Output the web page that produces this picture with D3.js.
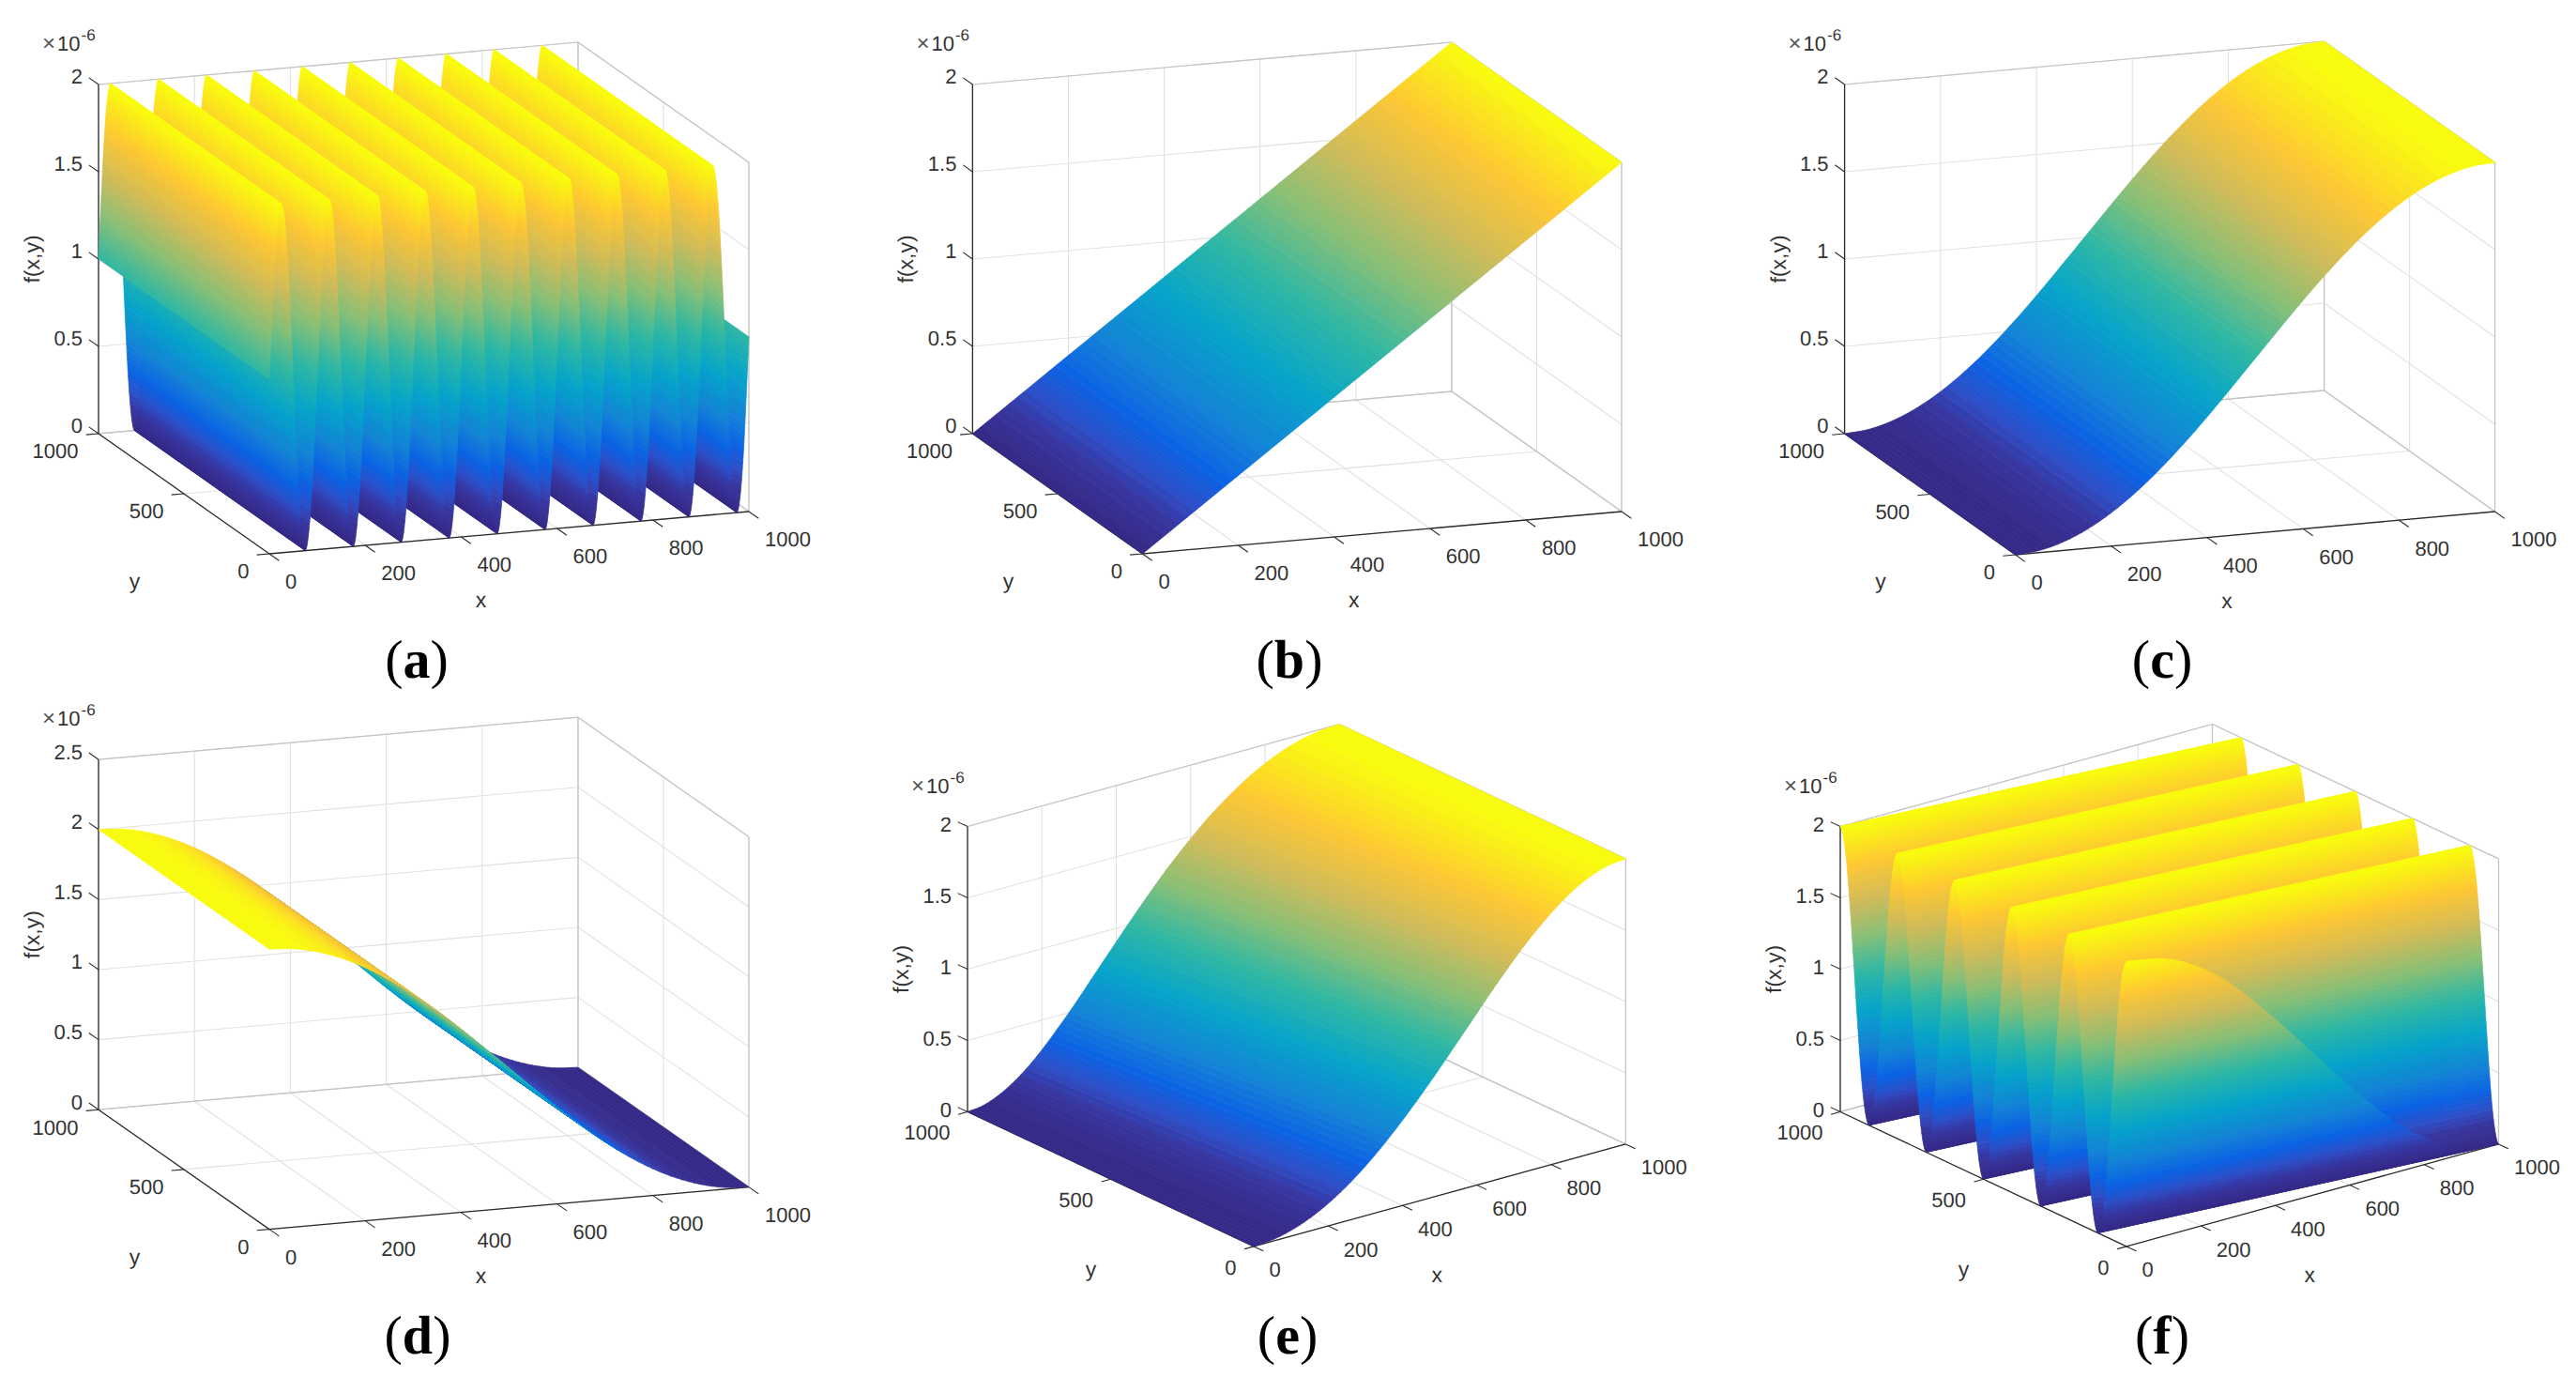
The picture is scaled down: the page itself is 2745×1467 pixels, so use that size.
<!DOCTYPE html>
<html><head><meta charset="utf-8">
<script src="https://cdnjs.cloudflare.com/ajax/libs/d3/7.8.5/d3.min.js"></script>
<style>html,body{margin:0;padding:0;background:#fff}svg{display:block}text{text-rendering:geometricPrecision}</style>
</head><body><svg id="c" width="2745" height="1467"></svg>
<script>
// ---- values ----
const panelNames = ["a","b","c","d","e","f"];
const xTicks = [0,200,400,600,800,1000];
const yTicks = [0,500,1000];
const zTicks = [0,0.5,1,1.5,2];
const zTicksD = [0,0.5,1,1.5,2,2.5];
const zTickLabels = ["0","0.5","1","1.5","2"];
const zTickLabelsD = ["0","0.5","1","1.5","2","2.5"];
const parulaPos = [0,0.06,0.11,0.17,0.25,0.375,0.5,0.625,0.75,0.875,1];
const parulaStops = ["#352a87","#38359f","#2d50c8","#0a62e4","#1481d6","#06a4ca","#2eb7a4","#87bf77","#d1bb59","#fec832","#f9fb0e"];

// height f(x,y) (units of 1e-6) along the profile of each surface
const gridA = 6.25;
const zA = [
1,1.38,1.71,1.92,2,1.92,1.71,1.38,1,0.62,0.29,0.08,0,0.08,0.29,0.62,
1,1.38,1.71,1.92,2,1.92,1.71,1.38,1,0.62,0.29,0.08,0,0.08,0.29,0.62,
1,1.38,1.71,1.92,2,1.92,1.71,1.38,1,0.62,0.29,0.08,0,0.08,0.29,0.62,
1,1.38,1.71,1.92,2,1.92,1.71,1.38,1,0.62,0.29,0.08,0,0.08,0.29,0.62,
1,1.38,1.71,1.92,2,1.92,1.71,1.38,1,0.62,0.29,0.08,0,0.08,0.29,0.62,
1,1.38,1.71,1.92,2,1.92,1.71,1.38,1,0.62,0.29,0.08,0,0.08,0.29,0.62,
1,1.38,1.71,1.92,2,1.92,1.71,1.38,1,0.62,0.29,0.08,0,0.08,0.29,0.62,
1,1.38,1.71,1.92,2,1.92,1.71,1.38,1,0.62,0.29,0.08,0,0.08,0.29,0.62,
1,1.38,1.71,1.92,2,1.92,1.71,1.38,1,0.62,0.29,0.08,0,0.08,0.29,0.62,
1,1.38,1.71,1.92,2,1.92,1.71,1.38,1,0.62,0.29,0.08,0,0.08,0.29,0.62,
1];
const gridB = 100;
const zB = [0,0.2,0.4,0.6,0.8,1,1.2,1.4,1.6,1.8,2];
const gridC = 50;
const zC = [0,0.012,0.049,0.109,0.191,0.293,0.412,0.546,0.691,0.844,1,1.156,1.309,1.454,1.588,1.707,1.809,1.891,1.951,1.988,2];
const gridD = 50;
const zD = [2,1.988,1.951,1.891,1.809,1.707,1.588,1.454,1.309,1.156,1,0.844,0.691,0.546,0.412,0.293,0.191,0.109,0.049,0.012,0];
const gridE = 50;
const zE = [0,0.012,0.049,0.109,0.191,0.293,0.412,0.546,0.691,0.844,1,1.156,1.309,1.454,1.588,1.707,1.809,1.891,1.951,1.988,2];
// (e) is slightly skewed: shift in x of each height band at y=0 and at y=1000
const skewFrontE = [0,5,11,16,21,25,28,31,33,35,35,35,33,31,28,25,21,16,11,5,0];
const skewBackE = [0,-11,-22,-32,-41,-49,-57,-62,-67,-69,-70,-69,-67,-62,-57,-49,-41,-32,-22,-11,0];
const gridF = 12.5;
const zF = [
2,1.92,1.71,1.38,1,0.62,0.29,0.08,0,0.08,0.29,0.62,1,1.38,1.71,1.92,
2,1.92,1.71,1.38,1,0.62,0.29,0.08,0,0.08,0.29,0.62,1,1.38,1.71,1.92,
2,1.92,1.71,1.38,1,0.62,0.29,0.08,0,0.08,0.29,0.62,1,1.38,1.71,1.92,
2,1.92,1.71,1.38,1,0.62,0.29,0.08,0,0.08,0.29,0.62,1,1.38,1.71,1.92,
2,1.92,1.71,1.38,1,0.62,0.29,0.08,0,0.08,0.29,0.62,1,1.38,1.71,1.92,
2,1.92,1.71,1.38,1,0.62,0.29,0.08,0];
// ridges of (f) drift in y by this amount between x=0 and x=1000
const driftF = [0,100];

// ---- layout: projected axis box of each panel ----
const L1 = {tx:.057, ty:.026, tz:.056,
  zl:[-17,-8.5], yl:[-21.5,18.5], xl:[17,29.5], xn:[-30,73], yn:[-52.5,94], fn:-70};
const L2 = {tx:.034, ty:.025, tz:.034,
  zl:[-17,-2], yl:[-18.5,22], xl:[16.5,24.5], xn:[-3,86], yn:[-21,96.6], fn:-69.5};
const layouts = {
 a:{o:[287,590],    ex:[511,-45],    ey:[-182,-128],    ezH:372,zTop:2,  s:L1, cap:[444,707]},
 b:{o:[1217.4,590], ex:[510.6,-45],  ey:[-181,-128],    ezH:372,zTop:2,  s:L1, cap:[1374,707]},
 c:{o:[2147.6,591], ex:[511,-46],    ey:[-182,-129],    ezH:372,zTop:2,  s:L1, cap:[2304,707]},
 d:{o:[287,1309.6], ex:[511,-45],    ey:[-182,-127.4],  ezH:373,zTop:2.5,s:L1, cap:[445,1427]},
 e:{o:[1336,1327.9],ex:[396.3,-109], ey:[-305,-143.4],  ezH:304,zTop:2,  s:L2, cap:[1372,1427]},
 f:{o:[2266,1327.9],ex:[396.5,-109], ey:[-305,-143.4],  ezH:304,zTop:2,  s:L2, cap:[2304,1427]}
};
const series = {
 a:{step:gridA,z:zA}, b:{step:gridB,z:zB}, c:{step:gridC,z:zC},
 d:{step:gridD,z:zD}, e:{step:gridE,z:zE,front:skewFrontE,back:skewBackE},
 f:{step:gridF,z:zF,drift:driftF}
};

const LEVELS = 64;
const parula = d3.scaleLinear().domain(parulaPos).range(parulaStops).interpolate(d3.interpolateRgb);
const levelOf = d3.scaleLinear().domain([0,2]).range([0,LEVELS]);
const fillOf = l => parula(Math.max(0,Math.min(LEVELS-1,l))/(LEVELS-1));

// Catmull-Rom smoothing of a sampled profile, the way curveCatmullRom would draw it
function smooth(step,z,n){
  const out=[];
  for(let i=0;i<z.length-1;i++){
    const p1=z[i],p2=z[i+1];
    const p0=i>0?z[i-1]:2*p1-p2, p3=i+2<z.length?z[i+2]:2*p2-p1;
    for(let k=0;k<n;k++){
      const t=k/n;
      const v=0.5*((2*p1)+(-p0+p2)*t+(2*p0-5*p1+4*p2-p3)*t*t+(-p0+3*p1-3*p2+p3)*t*t*t);
      out.push([(i+t)*step,Math.max(0,Math.min(2,v))]);
    }
  }
  out.push([(z.length-1)*step,z[z.length-1]]);
  return out;
}
// Break each segment where it crosses a colour level so the bands of the map show
function bands(pts){
  const res=[];
  for(let i=0;i<pts.length-1;i++){
    const [u1,z1]=pts[i],[u2,z2]=pts[i+1];
    const l1=levelOf(z1),l2=levelOf(z2);
    const cuts=[0];
    const lo=Math.min(l1,l2),hi=Math.max(l1,l2);
    const lev=[];
    for(let l=Math.ceil(lo);l<=Math.floor(hi);l++) if(l>lo&&l<hi) lev.push(l);
    if(l2<l1) lev.reverse();
    lev.forEach(l=>cuts.push((l-l1)/(l2-l1)));
    cuts.push(1);
    for(let k=0;k<cuts.length-1;k++){
      const a=cuts[k],b=cuts[k+1];
      res.push({u1:u1+(u2-u1)*a,z1:z1+(z2-z1)*a,u2:u1+(u2-u1)*b,z2:z1+(z2-z1)*b,
        level:Math.floor(l1+(l2-l1)*(a+b)/2)});
    }
  }
  return res;
}

const svg=d3.select("#c");
const sans="'Liberation Sans',Arial,sans-serif";
const AX="#2b2b2b", TX="#333";

panelNames.forEach(name=>{
  const P=layouts[name],S=series[name],st=P.s;
  const g=svg.append("g").attr("class","panel-"+name);
  const sx=d3.scaleLinear().domain([0,1000]).range([0,1]);
  const sy=d3.scaleLinear().domain([0,1000]).range([0,1]);
  const sz=d3.scaleLinear().domain([0,P.zTop]).range([0,P.ezH]);
  const proj=(x,y,z)=>[P.o[0]+sx(x)*P.ex[0]+sy(y)*P.ey[0],
                       P.o[1]+sx(x)*P.ex[1]+sy(y)*P.ey[1]-sz(z)];
  const line=(a,b,col,w)=>g.append("line")
    .attr("x1",a[0]).attr("y1",a[1]).attr("x2",b[0]).attr("y2",b[1])
    .attr("stroke",col).attr("stroke-width",w);
  const zT=name==="d"?zTicksD:zTicks, zL=name==="d"?zTickLabelsD:zTickLabels;
  const GR="#e1e1e1",BX="#c4c4c4";

  // grid on the floor and the two back walls
  xTicks.forEach(x=>{
    line(proj(x,0,0),proj(x,1000,0),GR,1.1);
    line(proj(x,1000,0),proj(x,1000,P.zTop),GR,1.1);
  });
  yTicks.forEach(y=>{
    line(proj(0,y,0),proj(1000,y,0),GR,1.1);
    line(proj(1000,y,0),proj(1000,y,P.zTop),GR,1.1);
  });
  zT.forEach(z=>{
    line(proj(0,1000,z),proj(1000,1000,z),GR,1.1);
    line(proj(1000,1000,z),proj(1000,0,z),GR,1.1);
  });
  // back box edges
  line(proj(1000,1000,0),proj(1000,0,0),BX,1.3);
  line(proj(1000,1000,0),proj(0,1000,0),BX,1.3);
  line(proj(1000,1000,0),proj(1000,1000,P.zTop),BX,1.2);
  line(proj(1000,0,0),proj(1000,0,P.zTop),BX,1.2);
  line(proj(0,1000,P.zTop),proj(1000,1000,P.zTop),BX,1.2);
  line(proj(1000,1000,P.zTop),proj(1000,0,P.zTop),BX,1.2);

  // axes and tick marks
  line(proj(0,0,0),proj(1000,0,0),AX,1.3);
  line(proj(0,0,0),proj(0,1000,0),AX,1.3);
  line(proj(0,1000,0),proj(0,1000,P.zTop),AX,1.3);
  const lab=(p,t,anchor)=>g.append("text").attr("x",p[0]).attr("y",p[1]).attr("dy","0.36em")
    .attr("text-anchor",anchor).attr("fill",TX).attr("font-family",sans).attr("font-size",22).text(t);
  xTicks.forEach(x=>{
    const p=proj(x,0,0);
    line(p,[p[0]-P.ey[0]*st.tx,p[1]-P.ey[1]*st.tx],AX,1.1);
    lab([p[0]+st.xl[0],p[1]+st.xl[1]],String(x),"start");
  });
  yTicks.forEach(y=>{
    const p=proj(0,y,0);
    line(p,[p[0]-P.ex[0]*st.ty,p[1]-P.ex[1]*st.ty],AX,1.1);
    lab([p[0]+st.yl[0],p[1]+st.yl[1]],String(y),"end");
  });
  zT.forEach((z,i)=>{
    const p=proj(0,1000,z);
    line(p,[p[0]+P.ey[0]*st.tz,p[1]+P.ey[1]*st.tz],AX,1.1);
    lab([p[0]+st.zl[0],p[1]+st.zl[1]],zL[i],"end");
  });

  // surface: flat strips along lines of constant height, painted far to near
  const grid=S.z.map((_,i)=>i*S.step);
  const drift=S.drift?d3.scaleLinear().domain([0,1000]).range(S.drift):null;
  const front=S.front?d3.scaleLinear().domain(grid).range(S.front):null;
  const back=S.back?d3.scaleLinear().domain(grid).range(S.back):null;
  const ends=u=>{
    if(drift){
      const D=S.drift[1];
      const a=u>1000?[(u-1000)/D*1000,1000]:[0,u];
      const b=u<D?[u/D*1000,0]:[1000,u-drift(1000)];
      return [a,b];
    }
    return [[u+(front?front(u):0),0],[u+(back?back(u):0),1000]];
  };
  const quads=bands(smooth(S.step,S.z,4)).reverse();
  g.append("g").selectAll("path").data(quads).join("path")
    .attr("d",q=>{
      const [a1,b1]=ends(q.u1),[a2,b2]=ends(q.u2);
      const pts=[proj(a1[0],a1[1],q.z1),proj(b1[0],b1[1],q.z1),proj(b2[0],b2[1],q.z2),proj(a2[0],a2[1],q.z2)];
      return "M"+pts.map(p=>p[0].toFixed(2)+","+p[1].toFixed(2)).join("L")+"Z";
    })
    .attr("fill",q=>fillOf(q.level))
    .attr("stroke",q=>fillOf(q.level))
    .attr("stroke-width",0.7)
    .attr("stroke-linejoin","round");

  // axis names
  const xm=proj(500,0,0),ym=proj(0,500,0);
  const zmid=[proj(0,1000,0)[0],(proj(0,1000,0)[1]+proj(0,1000,P.zTop)[1])/2];
  const nm=(p,t,rot)=>{
    const el=g.append("text").attr("text-anchor","middle").attr("dy","0.3em")
      .attr("fill",TX).attr("font-family",sans).attr("font-size",23).text(t);
    if(rot) el.attr("transform",`translate(${p[0]},${p[1]}) rotate(-90)`);
    else el.attr("x",p[0]).attr("y",p[1]);
  };
  nm([xm[0]+st.xn[0],xm[1]+st.xn[1]],"x");
  nm([ym[0]+st.yn[0],ym[1]+st.yn[1]],"y");
  nm([zmid[0]+st.fn,zmid[1]],"f(x,y)",true);

  // exponent
  const top=proj(0,1000,P.zTop);
  const ex=g.append("text").attr("x",top[0]-60).attr("y",top[1]-36)
    .attr("fill",TX).attr("font-family",sans).attr("font-size",22);
  ex.append("tspan").attr("font-size",24).attr("fill","#555").text("×");
  ex.append("tspan").attr("dx",2).text("10");
  ex.append("tspan").attr("font-size",17).attr("dx",1).attr("dy",-11).text("-6");

  // caption
  g.append("text").attr("x",P.cap[0]).attr("y",P.cap[1]+14.5)
    .attr("text-anchor","middle").attr("fill","#000")
    .attr("font-family","'Liberation Serif',serif").attr("font-size",58)
    .call(c=>{
      c.append("tspan").text("(");
      c.append("tspan").attr("font-weight","bold").text(name);
      c.append("tspan").text(")");
    });
});
</script></body></html>
